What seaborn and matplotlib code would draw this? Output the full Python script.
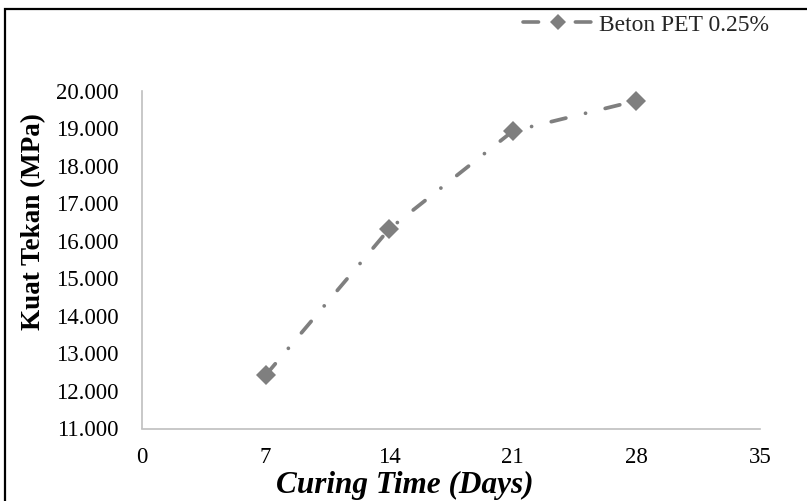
import matplotlib
matplotlib.use("Agg")
import matplotlib.pyplot as plt
import seaborn as sns
import pandas as pd
from matplotlib.lines import Line2D
from matplotlib.patches import Rectangle

# ---- data ----
curing_days = [7, 14, 21, 28]
kuat_tekan = [12.42, 16.32, 18.93, 19.74]
series_label = "Beton PET 0.25%"
x_ticks = [0, 7, 14, 21, 28, 35]
y_ticks = [11, 12, 13, 14, 15, 16, 17, 18, 19, 20]

sns.set_theme(style="white")
plt.rcParams['font.family'] = ['Liberation Serif', 'DejaVu Serif']

df = pd.DataFrame({"days": curing_days, "mpa": kuat_tekan})

W, H = 807, 501
fig = plt.figure(figsize=(W / 100, H / 100), dpi=100)
ax = fig.add_axes([142 / W, 1 - 428.5 / H, (760 - 142) / W, (428.5 - 91) / H])

grey = "#7F7F7F"
sns.lineplot(data=df, x="days", y="mpa", ax=ax, color=grey, linewidth=2.7,
             marker="D", markersize=10.5, markeredgewidth=0,
             linestyle=(0, (4.0, 5.4, 0.01, 5.4)), dash_capstyle="round",
             label=series_label, legend=False)

ax.set_xlim(0, 35)
ax.set_ylim(11, 20)
ax.set_xticks(x_ticks)
ax.set_yticks(y_ticks)
ax.set_xticklabels([str(v) for v in x_ticks])
ax.set_yticklabels([f"{v:.3f}" for v in y_ticks])
ax.tick_params(axis="both", length=0, labelsize=16.5, colors="black")
ax.tick_params(axis="x", pad=13)
ax.tick_params(axis="y", pad=17)

for s in ["top", "right"]:
    ax.spines[s].set_visible(False)
for s in ["left", "bottom"]:
    ax.spines[s].set_color("#BFBFBF")
    ax.spines[s].set_linewidth(1.2)

ax.set_xlabel("Curing Time (Days)", fontsize=22.5, fontweight="bold",
              fontstyle="italic", color="black", va="bottom")
ax.xaxis.set_label_coords((405 - 142) / (760 - 142), -(500 - 428.5) / (428.5 - 91))
ax.set_ylabel("Kuat Tekan (MPa)", fontsize=19.5, fontweight="bold", color="black")
ax.yaxis.set_label_coords(-(142 - 46) / (760 - 142), 1 - (221.5 - 91) / (428.5 - 91))

handle = Line2D([], [], color=grey, linewidth=2.6, linestyle=(0, (4.3, 10.2)),
                marker="D", markersize=8.5, markeredgewidth=0, solid_capstyle="round",
                dash_capstyle="round")
leg = fig.legend([handle], [series_label], loc="center right",
                 bbox_to_anchor=(778 / W, 1 - 25 / H), frameon=False,
                 fontsize=17, handlelength=3.0, handletextpad=0.2, borderaxespad=0)

fig.add_artist(Rectangle((5 / W, -0.1), 1.2, 1.1 - 9 / H, transform=fig.transFigure,
                         fill=False, edgecolor="black", linewidth=1.6, clip_on=False))

fig.savefig("out.png", dpi=100)
